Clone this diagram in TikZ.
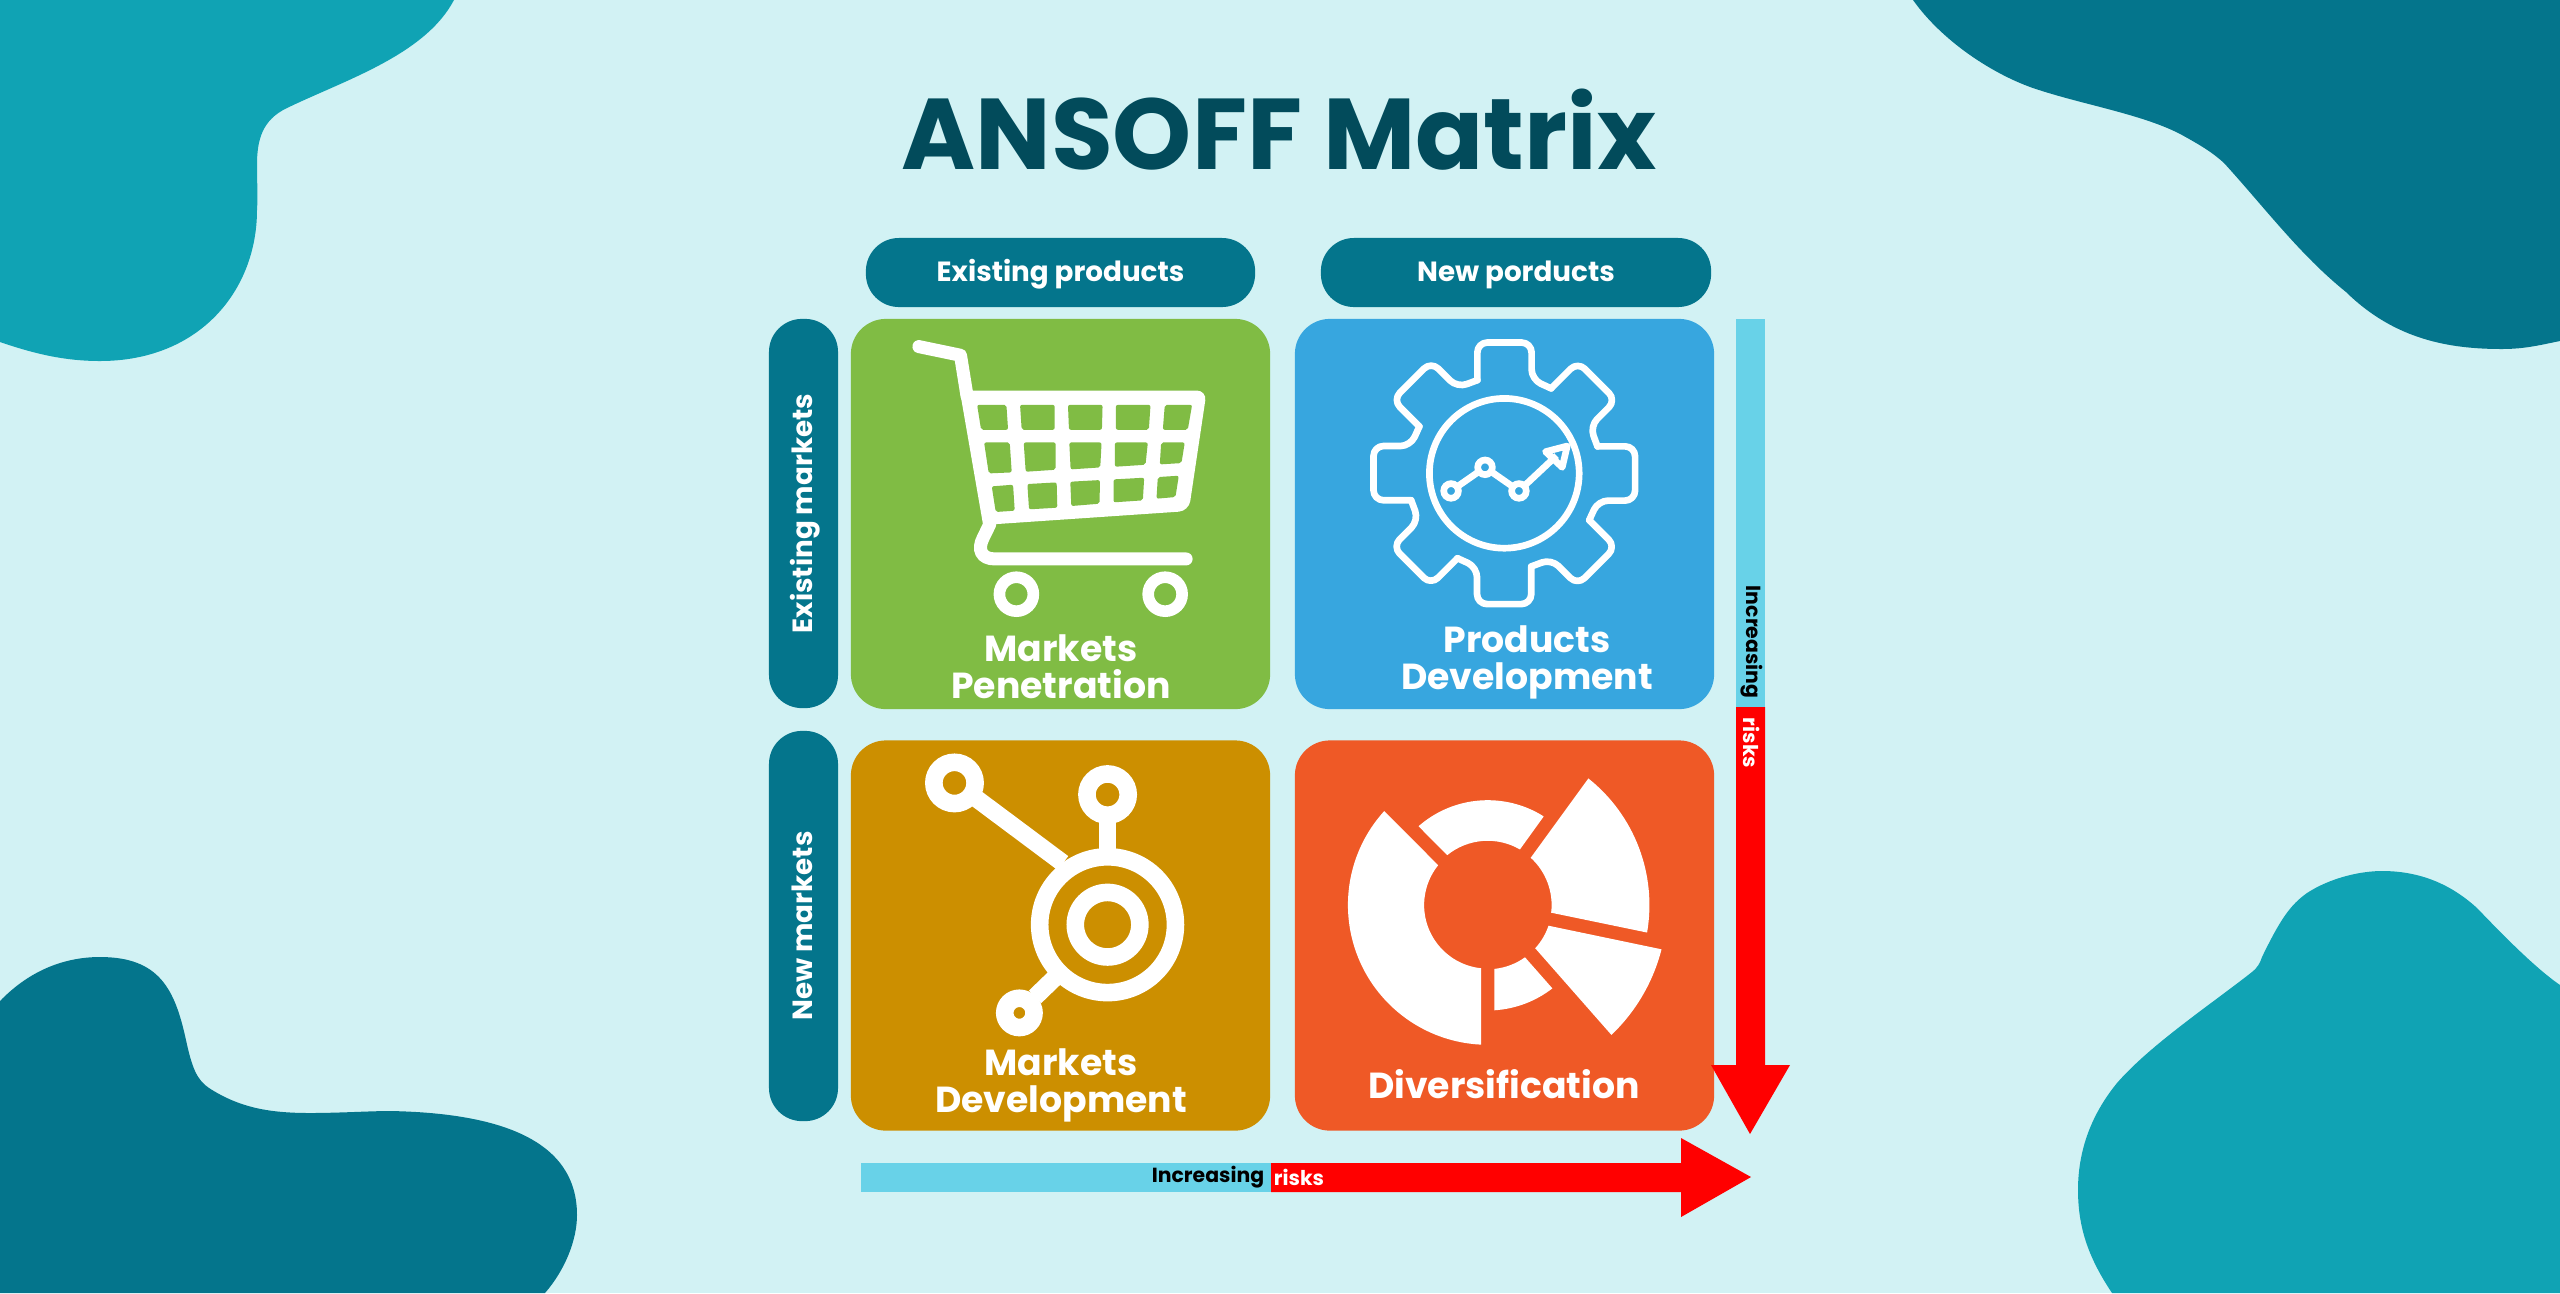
\documentclass[tikz,border=0pt]{standalone}
\usepackage{fontspec}
\setmainfont{Poppins}
\usepackage{xcolor}
\definecolor{pagebg}{HTML}{D2F2F4}
\definecolor{blobteal}{HTML}{10A3B4}
\definecolor{blobdark}{HTML}{04758C}
\definecolor{titleink}{HTML}{024B5B}
\definecolor{cardgreen}{HTML}{80BC44}
\definecolor{cardblue}{HTML}{37A6DF}
\definecolor{cardbrown}{HTML}{CC8F00}
\definecolor{cardorange}{HTML}{EF5926}
\definecolor{risklow}{HTML}{68D2E8}
\definecolor{riskhigh}{HTML}{FF0000}
\tikzset{
  cardbox/.style={minimum width=4.19cm, minimum height=3.9cm, rounded corners=0.35cm, inner sep=0pt},
  headpill/.style={fill=blobdark, text=white, font=\bfseries\fontsize{7.9}{9}\selectfont, inner sep=0pt, rounded corners=0.33cm, text height=0.2cm, text depth=0.02cm},
  cardlabel/.style={text=white, font=\bfseries\fontsize{10.3}{10.5}\selectfont, align=center, inner sep=0pt},
  risklabel/.style={font=\bfseries\fontsize{5.8}{7}\selectfont, inner sep=0pt},
  iconunit/.style={x=0.003333cm, y=-0.003333cm}
}
\begin{document}
\begin{tikzpicture}[x=0.01cm, y=-0.01cm]
\useasboundingbox (0,0) rectangle (2560,1293);
\fill[pagebg] (0,0) rectangle (2560,1293);
\fill[blobteal] (0,0) -- (454,0) .. controls (425,55) and (345,80) .. (287,108) .. controls (262,120) and (257,140) .. (257,165) .. controls (257,185) and (258,195) .. (257,210) .. controls (257,290) and (200,361) .. (100,361) .. controls (65,361) and (35,354) .. (0,342) -- cycle;
\fill[blobdark] (2560,0) -- (1913,0) .. controls (1945,45) and (2000,78) .. (2039,90) .. controls (2085,105) and (2145,115) .. (2182,135) .. controls (2200,145) and (2212,152) .. (2224,163) .. controls (2265,208) and (2300,255) .. (2346,292) .. controls (2395,340) and (2450,349) .. (2502,349) .. controls (2525,349) and (2540,345) .. (2560,341) -- cycle;
\fill[blobdark] (0,1293) -- (0,1001) .. controls (30,970) and (65,957) .. (100,957) .. controls (160,957) and (175,990) .. (186,1040) .. controls (192,1068) and (197,1080) .. (209,1088) .. controls (240,1108) and (270,1113) .. (310,1113) .. controls (340,1113) and (370,1111) .. (390,1111) .. controls (500,1113) and (577,1140) .. (577,1215) .. controls (577,1240) and (565,1270) .. (545,1293) -- cycle;
\fill[blobteal] (2560,1293) -- (2112,1293) .. controls (2090,1260) and (2078,1230) .. (2078,1190) .. controls (2078,1145) and (2095,1110) .. (2117,1083) .. controls (2150,1045) and (2210,1005) .. (2252,972) .. controls (2258,967) and (2260,963) .. (2262,957) .. controls (2280,920) and (2290,905) .. (2307,893) .. controls (2330,878) and (2360,871) .. (2382,871) .. controls (2425,871) and (2455,888) .. (2477,908) .. controls (2500,932) and (2535,968) .. (2560,985) -- cycle;

\node[text=titleink, font=\bfseries\fontsize{28.6}{30}\selectfont, inner sep=0pt] (title) at (1279,130) {ANSOFF Matrix};

\node[headpill, minimum width=3.89cm, minimum height=0.69cm] (headexisting) at (1060.5,272.5) {Existing products};
\node[headpill, minimum width=3.90cm, minimum height=0.69cm] (headnew) at (1516,272.5) {New porducts};
\node[headpill, rotate=90, minimum width=3.89cm, minimum height=0.69cm] (sideexisting) at (803.5,513.5) {Existing markets};
\node[headpill, rotate=90, minimum width=3.90cm, minimum height=0.69cm] (sidenew) at (803.5,926) {New markets};

\node[cardbox, fill=cardgreen] (cardpen) at (1060.5,514) {};
\node[cardbox, fill=cardblue] (cardprod) at (1504.5,514) {};
\node[cardbox, fill=cardbrown] (cardmark) at (1060.5,935.5) {};
\node[cardbox, fill=cardorange] (carddiv) at (1504.5,935.5) {};

% cart
\begin{scope}[shift={(840,300)}, iconunit]
\fill[white] (360,272) [rounded corners=0.1cm] -- (1102,272) -- (1048,634) [sharp corners] -- (430,676) -- cycle;
\draw[white, line width=3.7pt, line cap=round, line join=round] (237,140) -- (362,166) -- (382,290);
\draw[white, line width=3.7pt, line cap=round] (450,674) -- (430,715) .. controls (412,750) and (425,778) .. (465,778) -- (1040,778);
\foreach \ax/\ay/\bx/\by/\cx/\cy/\dx/\dy in {
  412/315/500/315/505/390/424/390, 541/315/645/315/645/390/546/390, 685/315/789/315/787/390/688/390, 829/315/933/315/928/390/829/390, 976/315/1058/315/1045/390/970/390,
  433/428/510/428/516/518/447/521, 552/428/648/428/648/510/558/516, 689/428/786/428/782/503/693/509, 826/428/925/428/918/495/826/501, 965/428/1036/428/1026/490/961/494,
  456/560/520/555/525/633/468/637, 563/553/651/548/653/624/568/629, 692/546/781/541/780/612/695/619, 822/539/914/534/910/602/822/608, 955/532/1018/528/1008/592/951/597}
  \fill[cardgreen, rounded corners=0.02cm] (\ax,\ay) -- (\bx,\by) -- (\cx,\cy) -- (\dx,\dy) -- cycle;
\draw[white, line width=3.3pt] (530,884) circle (51);
\draw[white, line width=3.3pt] (977,884) circle (51);
\end{scope}

% gear
\begin{scope}[shift={(1504.3,473.3)}, iconunit]
\foreach \a in {0,45,...,315}
  \draw[rotate=\a, white, line width=1.9pt, line join=round, line cap=round, rounded corners=0.1cm] (-81,-280) -- (-81,-393) -- (82,-393) -- (82,-282) -- (141,-255);
\draw[white, line width=1.9pt] (0,0) circle (225);
\draw[white, line width=1.9pt, line join=round] (-160,53) -- (-58,-18) -- (44,53) -- (157,-53);
\draw[white, line width=1.9pt, line join=round] (189,-82) -- (124,-65) -- (174,-18) -- cycle;
\foreach \px/\py in {-160/53, -58/-18, 44/53}
  \draw[white, line width=1.9pt, fill=cardblue] (\px,\py) circle (22);
\end{scope}

% hub
\begin{scope}[shift={(840,730)}, iconunit]
\draw[white, line width=5pt] (804,585) circle (204);
\draw[white, line width=5pt] (804,585) circle (97);
\draw[white, line width=5pt] (804,194) circle (62);
\draw[white, line width=5pt] (344,159) circle (62);
\draw[white, line width=5pt] (539,850) circle (44);
\draw[white, line width=5pt] (804,256) -- (804,385);
\draw[white, line width=5pt] (398,197) -- (670,400);
\draw[white, line width=5pt] (586,802) -- (645,745);
\end{scope}

% segments
\begin{scope}[shift={(1487.7,905)}, iconunit]
\fill[white] (222.2:420) arc (222.2:92.7:420) -- (96:191) arc (96:218.8:191) -- cycle;
\fill[white] (228.7:315) arc (228.7:302.3:315) -- (300.1:193) arc (300.1:231:193) -- cycle;
\fill[white] (-51.5:486) arc (-51.5:9.8:486) -- (6.9:192) arc (6.9:-47.7:192) -- cycle;
\fill[white] (14.3:539) arc (14.3:46.4:539) -- (42.3:193) arc (42.3:18.8:193) -- cycle;
\fill[white] (86.4:317) arc (86.4:52.2:317) -- (54.5:193) arc (54.5:84:193) -- cycle;
\end{scope}

\node[cardlabel] (labelpen) at (1061,667) {Markets\\Penetration};
\node[cardlabel] (labelprod) at (1527,662) {Products\\Development};
\node[cardlabel] (labelmark) at (1061,1085) {Markets\\Development};
\node[cardlabel] (labeldiv) at (1504,1084) {Diversification};

% risk arrows
\fill[risklow] (1736,319) rectangle (1765,707);
\fill[riskhigh] (1736,707) -- (1765,707) -- (1765,1065) -- (1790,1065) -- (1750,1134) -- (1711,1065) -- (1736,1065) -- cycle;
\fill[risklow] (861,1163) rectangle (1271,1192);
\fill[riskhigh] (1271,1163) -- (1681,1163) -- (1681,1138) -- (1751,1177) -- (1681,1217) -- (1681,1192) -- (1271,1192) -- cycle;

\node[risklabel, rotate=-90, text=black] (riskv) at (1752,642) {Increasing};
\node[risklabel, rotate=-90, text=white] (riskvb) at (1752,743) {risks};
\node[risklabel, text=black] (riskh) at (1208,1177) {Increasing};
\node[risklabel, text=white] (riskhb) at (1299,1177) {risks};
\end{tikzpicture}
\end{document}
